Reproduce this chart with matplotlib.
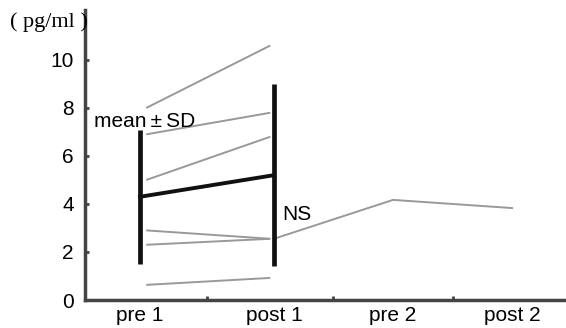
import matplotlib
matplotlib.use("Agg")
import matplotlib.pyplot as plt

# data (pg/ml)
categories = ["pre 1", "post 1", "pre 2", "post 2"]
pre1 = [8.0, 6.9, 5.0, 2.9, 2.3, 0.63]
post1 = [10.6, 7.8, 6.8, 2.55, 2.55, 0.92]
followup = [2.55, 4.17, 3.83]  # subject followed to pre 2 / post 2
mean_vals = [4.3, 5.2]
sd_vals = [2.8, 3.8]

# layout: x position of each category on the axis
xpos = [0, 1.08, 2.04, 3.0]

plt.rcParams['font.family'] = ['Liberation Sans', 'DejaVu Sans']

fig = plt.figure(figsize=(5.66, 3.28), dpi=100)
ax = fig.add_axes([85 / 566, 28 / 328, 481 / 566, 290 / 328])

# individual subjects
for a, b in zip(pre1, post1):
    ax.plot([xpos[0] + 0.05, xpos[1] - 0.03], [a, b], color='#999999', lw=1.4,
            solid_capstyle='butt')
ax.plot(xpos[1:], followup, color='#999999', lw=1.4)

# mean +- SD
ax.plot(xpos[:2], mean_vals, color='#111111', lw=2.8)
for x, m, s in zip(xpos[:2], mean_vals, sd_vals):
    ax.plot([x, x], [m - s, m + s], color='#111111', lw=3.4, solid_capstyle='butt')

ax.text(xpos[0] - 0.37, 7.45, "mean\u2009\u00b1\u2009SD", fontsize=15, va='center', ha='left')
ax.text(xpos[1] + 0.07, 3.55, "NS", fontsize=15, va='center', ha='left')

ax.set_xlim(-0.444, 3.435)
ax.set_ylim(0, 12.08)
ax.set_yticks(range(0, 11, 2))
ax.set_xticks(xpos)
ax.set_xticklabels(categories)
ax.set_xticks([(xpos[i] + xpos[i + 1]) / 2 for i in range(3)], minor=True)

for side in ['top', 'right']:
    ax.spines[side].set_visible(False)
for side in ['left', 'bottom']:
    ax.spines[side].set_color('#444444')
    ax.spines[side].set_linewidth(2.5)

ax.tick_params(axis='y', direction='in', length=3, width=2, color='#444444',
               labelsize=15, pad=8)
ax.tick_params(axis='x', which='major', length=0, labelsize=15, pad=4)
ax.tick_params(axis='x', which='minor', direction='in', length=3, width=2,
               color='#444444')

fig.text(10 / 566, 1 - 22 / 328, "( pg/ml )", fontsize=16, va='center', ha='left',
         family='Liberation Serif')

fig.savefig("out.png", dpi=100)
